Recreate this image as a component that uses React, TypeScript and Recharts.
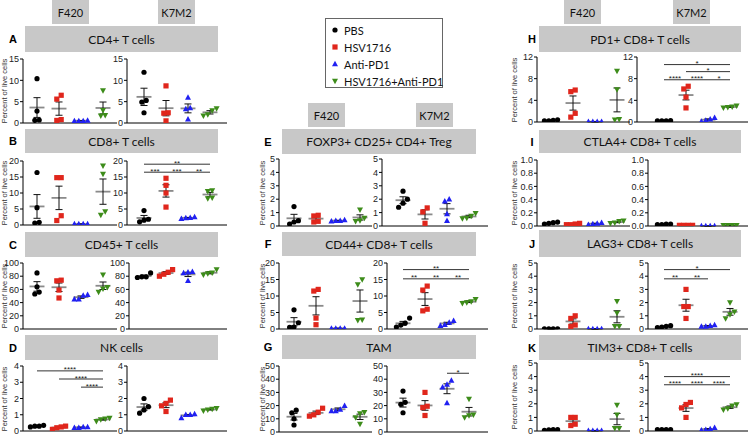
import React from "react";
import { ScatterChart, Scatter, XAxis, YAxis, ReferenceLine } from "recharts";

const groups = ["PBS", "HSV1716", "Anti-PD1", "HSV1716+Anti-PD1"];
const colors = ["#000000", "#e0261c", "#2020f2", "#3d8c1a"];

// A  CD4+ T cells
const cd4F420 = [[10.4, 2.8, 0.6, 0.7], [5.6, 6.5, 0.6, 0.8], [0.5, 0.5, 0.6, 0.5], [7.6, 3.0, 1.8, 1.7]];
const cd4K7M2 = [[11.9, 4.9, 5.3, 2.4], [8.7, 2.4, 2.3, 0.5], [6.0, 3.3, 3.5, 0.9], [3.4, 2.9, 2.0, 1.7]];
// B  CD8+ T cells
const cd8F420 = [[16.4, 5.4, 0.6, 0.8], [14.8, 14.8, 2.9, 1.4], [0.3, 0.3, 0.3, 0.3], [18.5, 15.9, 3.1, 4.2]];
const cd8K7M2 = [[4.5, 1.5, 1.8, 1.0], [14.6, 12.4, 10.0, 5.6], [2.5, 2.2, 2.0, 2.3], [10.8, 10.5, 8.5, 8.3]];
// C  CD45+
const cd45F420 = [[85, 64, 53, 56], [73, 74, 59, 47], [45, 51, 52, 45], [82, 63, 61, 56]];
const cd45K7M2 = [[85, 79, 78, 79], [80, 86, 90, 83], [87, 85, 73, 86], [90, 85, 82, 84]];
// D  NK cells
const nkF420 = [[0.25, 0.35, 0.3, 0.3], [0.2, 0.3, 0.25, 0.1], [0.2, 0.25, 0.2, 0.25], [0.6, 0.8, 0.7, 0.75]];
const nkK7M2 = [[1.1, 2.0, 1.5, 1.3], [1.9, 1.7, 1.55, 1.2], [1.0, 1.0, 0.8, 1.05], [1.3, 1.4, 1.25, 1.35]];
// E  Treg
const tregF420 = [[1.45, 0.4, 0.3, 0.15], [0.8, 0.75, 0.3, 0.35], [0.4, 0.45, 0.35, 0.4], [1.2, 0.6, 0.35, 0.4]];
const tregK7M2 = [[2.6, 2.0, 1.7, 1.4], [1.35, 1.05, 0.2], [2.0, 1.85, 0.9, 0.4], [0.95, 0.75, 0.6, 0.55]];
// F  CD44+ CD8+
const cd44F420 = [[5.8, 1.9, 0.5, 0.6], [11.5, 12.0, 3.3, 1.3], [0.2, 0.2, 0.2, 0.2], [15.0, 13.5, 2.8, 2.6]];
const cd44K7M2 = [[3.3, 1.2, 0.6, 1.8], [13.0, 11.8, 6.0, 5.5], [2.5, 2.0, 1.0, 1.3], [8.0, 8.3, 7.8, 9.0]];
// G  TAM
const tamF420 = [[16.5, 14.5, 5.3, 10], [18, 15, 12, 13], [20, 17, 16, 16], [15, 14, 11, 6]];
const tamK7M2 = [[31, 22.5, 21, 14.6], [30, 19.5, 18.5, 12.5], [39, 36, 34, 22], [25, 13, 12.5, 11]];
// H  PD1+ CD8+
const pd1F420 = [[0.3, 0.4, 0.2, 0.2], [5.6, 5.9, 1.6, 0.9], [0.05, 0.05, 0.05, 0.05], [9.4, 6.0, 0.5, 0.4]];
const pd1K7M2 = [[0.2, 0.25, 0.2, 0.2], [6.6, 6.1, 4.6, 2.6], [0.8, 0.5, 0.3, 0.1], [3.0, 2.8, 2.6, 2.7]];
// I  CTLA4+ CD8+
const ctla4F420 = [[0.05, 0.06, 0.03, 0.04], [0.02, 0.04, 0.03, 0.02], [0.04, 0.05, 0.02, 0.03], [0.08, 0.07, 0.05, 0.04]];
const ctla4K7M2 = [[0.03, 0.02, 0.02, 0.03], [0.01, 0.01, 0.01, 0.01], [0.0, 0.0, 0.0, 0.0], [0.01, 0.01, 0.01, 0.01]];
// J  LAG3+ CD8+
const lag3F420 = [[0.01, 0.01, 0.01, 0.01], [1.0, 0.8, 0.3, 0.2], [0.01, 0.01, 0.01, 0.01], [2.1, 1.2, 0.2, 0.2]];
const lag3K7M2 = [[0.25, 0.2, 0.15, 0.1], [3.0, 1.7, 1.7, 0.8], [0.3, 0.25, 0.2, 0.2], [2.0, 1.3, 1.1, 0.8]];
// K  TIM3+ CD8+
const tim3F420 = [[0.1, 0.1, 0.05, 0.08], [1.0, 1.0, 0.4, 0.5], [0.02, 0.02, 0.02, 0.02], [1.9, 1.2, 0.2, 0.2]];
const tim3K7M2 = [[0.1, 0.1, 0.1, 0.1], [2.1, 1.95, 1.7, 1.0], [0.25, 0.15, 0.1, 0.05], [1.95, 1.85, 1.65, 1.55]];

// significance brackets: [from group, to group, level, stars]
type Sig = [number, number, number, string];
const cd8K7M2Sig: Sig[] = [[0, 3, 19, "**"], [0, 1, 16.5, "***"], [1, 2, 16.5, "***"], [2, 3, 16.5, "**"]];
const nkF420Sig: Sig[] = [[0, 3, 3.7, "****"], [1, 3, 3.2, "****"], [2, 3, 2.7, "****"]];
const cd44K7M2Sig: Sig[] = [[0, 3, 18, "**"], [0, 1, 15.2, "**"], [1, 2, 15.2, "**"], [2, 3, 15.2, "**"]];
const tamK7M2Sig: Sig[] = [[2, 3, 44.5, "*"]];
const pd1K7M2Sig: Sig[] = [[0, 3, 10.6, "*"], [1, 3, 9.3, "*"], [0, 1, 7.8, "****"], [1, 2, 7.8, "****"], [2, 3, 7.8, "*"]];
const lag3K7M2Sig: Sig[] = [[0, 3, 4.5, "*"], [0, 1, 3.8, "**"], [1, 2, 3.8, "**"]];
const tim3K7M2Sig: Sig[] = [[0, 3, 4.0, "****"], [0, 1, 3.4, "****"], [1, 2, 3.4, "****"], [2, 3, 3.4, "****"]];

const ticks15 = [0, 5, 10, 15];
const ticks20 = [0, 5, 10, 15, 20];
const ticks100 = [0, 20, 40, 60, 80, 100];
const ticks4 = [0, 1, 2, 3, 4];
const ticks5 = [0, 1, 2, 3, 4, 5];
const ticks50 = [0, 10, 20, 30, 40, 50];
const ticks12 = [0, 4, 8, 12];
const ticks1 = [0, 0.2, 0.4, 0.6, 0.8, 1.0];

const STEP = 22;
const TICK_FONT = "'Liberation Sans', Arial, sans-serif";
const TITLE_FONT = "Lato, 'Open Sans', sans-serif";

type PlotCfg = {
  data: number[][];
  ticks: number[];
  dec?: number;
  sig?: Sig[];
  ax: number;
  g0: number;
  rx: number;
  ty: number;
  by: number;
};

function swarm(vals: number[], ppu: number) {
  const idx = vals.map((_, i) => i).sort((a, b) => vals[a] - vals[b]);
  const off = vals.map(() => 0);
  let cl: number[] = [];
  const flush = () => {
    cl.forEach((k, j) => {
      off[k] = (j - (cl.length - 1) / 2) * 0.2;
    });
    cl = [];
  };
  idx.forEach((k) => {
    if (cl.length && (vals[k] - vals[cl[cl.length - 1]]) * ppu > 5) flush();
    cl.push(k);
  });
  flush();
  return off;
}

const marker = (g: number) => (p: any) => {
  const { cx, cy } = p;
  const c = colors[g];
  if (g === 0) return <circle cx={cx} cy={cy} r={2.6} fill={c} />;
  if (g === 1) return <rect x={cx - 2.6} y={cy - 2.6} width={5.2} height={5.2} fill={c} />;
  if (g === 2)
    return <polygon points={`${cx},${cy - 3.2} ${cx + 3},${cy + 2.3} ${cx - 3},${cy + 2.3}`} fill={c} />;
  return <polygon points={`${cx},${cy + 3.2} ${cx + 3},${cy - 2.3} ${cx - 3},${cy - 2.3}`} fill={c} />;
};

const starShape = (p: any) => (
  <text x={p.cx} y={p.cy + 1.5} textAnchor="middle" fontSize={8} fill="#222" fontFamily={TICK_FONT}>
    {p.payload.label}
  </text>
);

function Plot({ cfg }: { cfg: PlotCfg }) {
  const { data, ticks, sig = [], ax, g0, rx, ty, by, dec = 0 } = cfg;
  const yMax = ticks[ticks.length - 1];
  const yw = 24;
  const mt = 8;
  const mb = 6;
  const w = rx - ax + yw;
  const h = by - ty + mt + 1 + mb;
  const ppu = (by - ty) / yMax;
  const pts = data.map((vals, g) => {
    const off = swarm(vals, ppu);
    return vals.map((v, i) => ({ x: g + off[i], y: v }));
  });
  const stats = data.map((vals) => {
    const n = vals.length;
    const m = vals.reduce((a, b) => a + b, 0) / n;
    const sd = Math.sqrt(vals.reduce((a, b) => a + (b - m) ** 2, 0) / (n - 1));
    return { m, se: sd / Math.sqrt(n) };
  });
  const stars = sig.map((s) => ({ x: (s[0] + s[1]) / 2, y: s[2], label: s[3] }));
  return (
    <div style={{ position: "absolute", left: ax - yw, top: ty - mt, width: w, height: h }}>
      <ScatterChart width={w} height={h} margin={{ top: mt, right: 0, bottom: mb, left: 0 }}>
        <XAxis
          type="number"
          dataKey="x"
          domain={[(ax - g0) / STEP, (rx - g0) / STEP]}
          allowDataOverflow
          tick={false}
          tickLine={false}
          axisLine={{ stroke: "#000", strokeWidth: 1 }}
          height={1}
        />
        <YAxis
          type="number"
          dataKey="y"
          domain={[0, yMax]}
          ticks={ticks}
          allowDataOverflow
          interval={0}
          width={yw}
          tickSize={3}
          tickMargin={1}
          tickFormatter={(v: number) => v.toFixed(dec)}
          tick={{ fontSize: 9, fill: "#222", fontFamily: TICK_FONT }}
          axisLine={{ stroke: "#000" }}
          tickLine={{ stroke: "#000" }}
        />
        {stats.map((s, g) => (
          <ReferenceLine
            key={"m" + g}
            segment={[{ x: g - 0.34, y: s.m }, { x: g + 0.34, y: s.m }]}
            stroke="#8a8a8a"
            strokeWidth={1.8}
            ifOverflow="visible"
          />
        ))}
        {stats.map((s, g) => (
          <ReferenceLine
            key={"v" + g}
            segment={[{ x: g, y: Math.max(0, s.m - s.se) }, { x: g, y: s.m + s.se }]}
            stroke="#111"
            strokeWidth={1}
            ifOverflow="visible"
          />
        ))}
        {stats.map((s, g) => (
          <ReferenceLine
            key={"u" + g}
            segment={[{ x: g - 0.16, y: s.m + s.se }, { x: g + 0.16, y: s.m + s.se }]}
            stroke="#111"
            strokeWidth={1}
            ifOverflow="visible"
          />
        ))}
        {stats.map((s, g) =>
          s.m - s.se > 0 ? (
            <ReferenceLine
              key={"l" + g}
              segment={[{ x: g - 0.16, y: s.m - s.se }, { x: g + 0.16, y: s.m - s.se }]}
              stroke="#111"
              strokeWidth={1}
              ifOverflow="visible"
            />
          ) : null
        )}
        {sig.map((s, i) => (
          <ReferenceLine
            key={"s" + i}
            segment={[{ x: s[0], y: s[2] }, { x: s[1], y: s[2] }]}
            stroke="#333"
            strokeWidth={1}
            ifOverflow="visible"
          />
        ))}
        {pts.map((p, g) => (
          <Scatter key={groups[g]} name={groups[g]} data={p} shape={marker(g)} isAnimationActive={false} />
        ))}
        {stars.length ? <Scatter data={stars} shape={starShape} isAnimationActive={false} /> : null}
      </ScatterChart>
    </div>
  );
}

// layout of the three columns
const C1L = { ax: 23, g0: 37, rx: 117 };
const C1R = { ax: 127, g0: 144, rx: 227 };
const C2L = { ax: 279, g0: 294, rx: 372 };
const C2R = { g0: 403, rx: 488 };
const C3L = { ax: 537, g0: 551, rx: 630 };
const C3R = { g0: 664, rx: 748 };

type Panel = { letter: string; title: string; bar: [number, number, number, number]; lx: number; ylab: number; plots: PlotCfg[] };

const panels: Panel[] = [
  {
    letter: "A", title: "CD4+ T cells", bar: [25, 26, 218, 52], lx: 13, ylab: 5,
    plots: [
      { data: cd4F420, ticks: ticks15, ...C1L, ty: 59, by: 123 },
      { data: cd4K7M2, ticks: ticks15, ...C1R, ty: 59, by: 123 },
    ],
  },
  {
    letter: "B", title: "CD8+ T cells", bar: [25, 129, 218, 153], lx: 13, ylab: 5,
    plots: [
      { data: cd8F420, ticks: ticks20, ...C1L, ty: 161, by: 225 },
      { data: cd8K7M2, ticks: ticks20, sig: cd8K7M2Sig, ...C1R, ty: 161, by: 225 },
    ],
  },
  {
    letter: "C", title: "CD45+ T cells", bar: [25, 232, 218, 257], lx: 13, ylab: 5,
    plots: [
      { data: cd45F420, ticks: ticks100, ...C1L, ty: 263, by: 329 },
      { data: cd45K7M2, ticks: ticks100, ...C1R, ax: 129, ty: 263, by: 329 },
    ],
  },
  {
    letter: "D", title: "NK cells", bar: [25, 335, 218, 360], lx: 13, ylab: 5,
    plots: [
      { data: nkF420, ticks: ticks4, sig: nkF420Sig, ...C1L, ty: 366, by: 431 },
      { data: nkK7M2, ticks: ticks4, ...C1R, ty: 366, by: 431 },
    ],
  },
  {
    letter: "E", title: "FOXP3+ CD25+ CD4+ Treg", bar: [282, 129, 476, 154], lx: 268, ylab: 263,
    plots: [
      { data: tregF420, ticks: ticks5, ...C2L, ty: 159, by: 226 },
      { data: tregK7M2, ticks: ticks5, ...C2R, ax: 382, ty: 159, by: 226 },
    ],
  },
  {
    letter: "F", title: "CD44+ CD8+ T cells", bar: [282, 232, 476, 256], lx: 268, ylab: 263,
    plots: [
      { data: cd44F420, ticks: ticks20, ...C2L, ty: 263, by: 329 },
      { data: cd44K7M2, ticks: ticks20, sig: cd44K7M2Sig, ...C2R, ax: 387, ty: 263, by: 329 },
    ],
  },
  {
    letter: "G", title: "TAM", bar: [282, 335, 476, 359], lx: 268, ylab: 263,
    plots: [
      { data: tamF420, ticks: ticks50, ...C2L, ty: 366, by: 432 },
      { data: tamK7M2, ticks: ticks50, sig: tamK7M2Sig, ...C2R, ax: 387, ty: 366, by: 432 },
    ],
  },
  {
    letter: "H", title: "PD1+ CD8+ T cells", bar: [539, 26, 741, 52], lx: 532, ylab: 515,
    plots: [
      { data: pd1F420, ticks: ticks12, ...C3L, ty: 57, by: 122 },
      { data: pd1K7M2, ticks: ticks12, sig: pd1K7M2Sig, ...C3R, ax: 637, ty: 57, by: 122 },
    ],
  },
  {
    letter: "I", title: "CTLA4+ CD8+ T cells", bar: [539, 130, 741, 153], lx: 532, ylab: 515,
    plots: [
      { data: ctla4F420, ticks: ticks1, dec: 1, ...C3L, ty: 160, by: 226 },
      { data: ctla4K7M2, ticks: ticks1, dec: 1, ...C3R, ax: 648, ty: 160, by: 226 },
    ],
  },
  {
    letter: "J", title: "LAG3+ CD8+ T cells", bar: [539, 230, 741, 257], lx: 532, ylab: 515,
    plots: [
      { data: lag3F420, ticks: ticks5, ...C3L, ty: 263, by: 329 },
      { data: lag3K7M2, ticks: ticks5, sig: lag3K7M2Sig, ...C3R, ax: 648, ty: 263, by: 329 },
    ],
  },
  {
    letter: "K", title: "TIM3+ CD8+ T cells", bar: [539, 335, 741, 360], lx: 532, ylab: 515,
    plots: [
      { data: tim3F420, ticks: ticks5, ...C3L, ty: 363, by: 431 },
      { data: tim3K7M2, ticks: ticks5, sig: tim3K7M2Sig, ...C3R, ax: 648, ty: 363, by: 431 },
    ],
  },
];

const headers: [string, number, number][] = [
  ["F420", 52, 0], ["K7M2", 158, 0],
  ["F420", 308, 103], ["K7M2", 416, 103],
  ["F420", 564, 0], ["K7M2", 673, 0],
];

const grayBox: React.CSSProperties = {
  position: "absolute",
  background: "#c8c8c8",
  display: "flex",
  alignItems: "center",
  justifyContent: "center",
  fontFamily: TITLE_FONT,
  color: "#111",
};

export default function App() {
  return (
    <div style={{ position: "absolute", left: 0, top: 0, width: 750, height: 437, background: "#fff", overflow: "hidden" }}>
      {panels.map((p) => {
        const pl = p.plots[0];
        return (
          <div
            key={"yl" + p.letter}
            style={{
              position: "absolute",
              left: p.ylab - 50,
              top: (pl.ty + pl.by) / 2 - 5,
              width: 100,
              height: 10,
              lineHeight: "10px",
              textAlign: "center",
              transform: "rotate(-90deg)",
              fontSize: 7.5,
              color: "#333",
              fontFamily: TICK_FONT,
              whiteSpace: "nowrap",
            }}
          >
            Percent of live cells
          </div>
        );
      })}
      {panels.map((p) => p.plots.map((c, i) => <Plot key={p.letter + i} cfg={c} />))}
      {headers.map(([t, x, y], i) => (
        <div key={"h" + i} style={{ ...grayBox, left: x, top: y, width: 37, height: 24, fontSize: 11 }}>
          {t}
        </div>
      ))}
      {panels.map((p) => (
        <React.Fragment key={"t" + p.letter}>
          <div
            style={{
              ...grayBox,
              left: p.bar[0],
              top: p.bar[1],
              width: p.bar[2] - p.bar[0],
              height: p.bar[3] - p.bar[1],
              fontSize: 12,
            }}
          >
            {p.title}
          </div>
          <div
            style={{
              position: "absolute",
              left: p.lx - 6,
              top: (p.bar[1] + p.bar[3]) / 2 - 7,
              width: 12,
              height: 14,
              lineHeight: "14px",
              textAlign: "center",
              fontFamily: TICK_FONT,
              fontWeight: "bold",
              fontSize: 11,
              color: "#000",
            }}
          >
            {p.letter}
          </div>
        </React.Fragment>
      ))}
      <div
        style={{
          position: "absolute",
          left: 325,
          top: 18,
          width: 116,
          height: 68,
          border: "1px solid #666",
          background: "#fff",
          fontFamily: TITLE_FONT,
          fontSize: 11,
        }}
      >
        {groups.map((g, i) => (
          <div key={g} style={{ position: "absolute", left: 0, top: 3 + i * 17, height: 16, display: "flex", alignItems: "center" }}>
            <svg width={16} height={16} style={{ marginLeft: 1 }}>
              {marker(i)({ cx: 8, cy: 8 })}
            </svg>
            <span style={{ marginLeft: 1, color: "#111", whiteSpace: "nowrap" }}>{g}</span>
          </div>
        ))}
      </div>
    </div>
  );
}
